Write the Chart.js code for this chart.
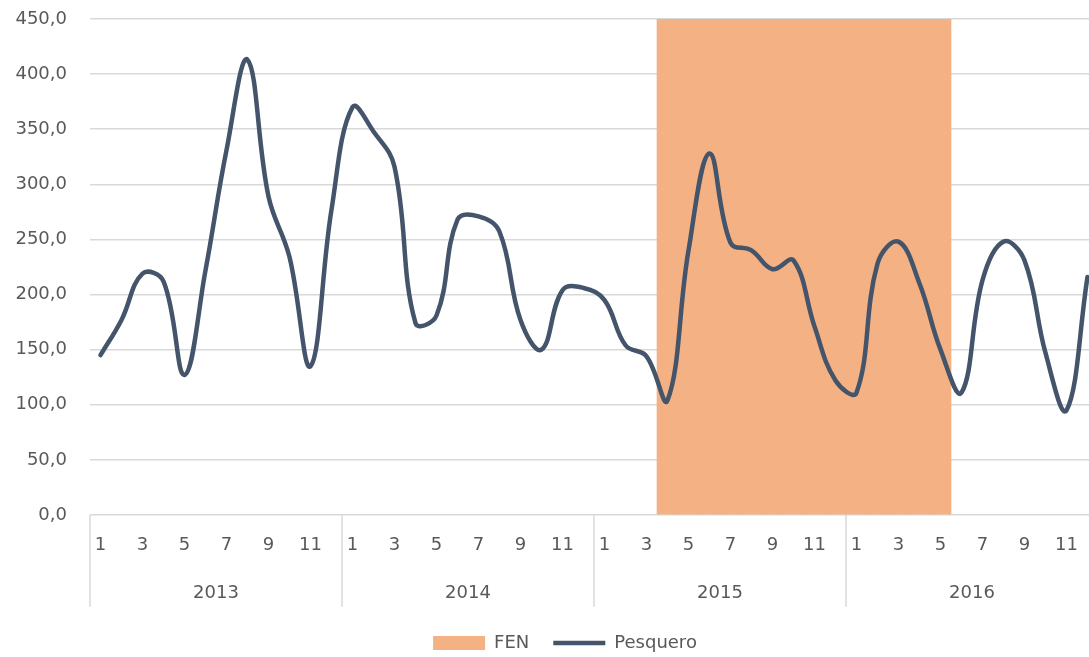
<!DOCTYPE html>
<html>
<head>
<meta charset="utf-8">
<script src="https://cdn.jsdelivr.net/npm/chart.js@4/dist/chart.umd.min.js"></script>
<style>
  html, body { margin: 0; padding: 0; background: #fff; overflow: hidden; }
  #wrap { width: 1089px; height: 657px; overflow: hidden; }
</style>
</head>
<body>
<div id="wrap"><canvas id="chart" width="1104" height="680"></canvas></div>
<script>
var years = ['2013', '2014', '2015', '2016'];
var months = ['1', '2', '3', '4', '5', '6', '7', '8', '9', '10', '11', '12'];

// Pesquero, monthly values 2013-2016
var pesquero = [
    145, 177, 219, 212, 127, 222, 331, 413, 289, 234, 135, 277,
    370, 348, 316, 174, 181, 268, 271, 257, 177, 150, 204, 206,
    195, 154, 144, 104, 240, 328, 247, 240, 223, 231, 171, 122,
    111, 228, 248, 210, 150, 111, 213, 248, 231, 147, 95, 216
];

// FEN period (band up to the top of the axis)
var fen = [
    null, null, null, null, null, null, null, null, null, null, null, null,
    null, null, null, null, null, null, null, null, null, null, null, null,
    null, null, null, 450, 450, 450, 450, 450, 450, 450, 450, 450,
    450, 450, 450, 450, 450, null, null, null, null, null, null, null
];

var labels = [];
years.forEach(function (y) {
    months.forEach(function (m) { labels.push(m); });
});

var textColor = '#595959';
var gridColor = '#d9d9d9';
var font = { family: 'DejaVu Sans', size: 18 };

// vertical separators between the years, below the plot
var yearSeparators = {
    id: 'yearSeparators',
    afterLayout: function (chart) {
        // legend sits a bit right of the canvas centre
        chart.legend.left += 16;
        chart.legend.right += 16;
    },
    afterDraw: function (chart) {
        var xs = chart.scales.x;
        var ctx = chart.ctx;
        var half = (xs.getPixelForValue(1) - xs.getPixelForValue(0)) / 2;
        ctx.save();
        ctx.strokeStyle = gridColor;
        ctx.lineWidth = 1.5;
        for (var i = 0; i <= years.length; i++) {
            var x = Math.round(xs.getPixelForValue(i * 12) - half);
            ctx.beginPath();
            ctx.moveTo(x, chart.chartArea.bottom);
            ctx.lineTo(x, chart.chartArea.bottom + 92);
            ctx.stroke();
        }
        ctx.restore();
    }
};

var ctx = document.getElementById('chart').getContext('2d');

new Chart(ctx, {
    type: 'bar',
    data: {
        labels: labels,
        datasets: [{
            type: 'bar',
            label: 'FEN',
            data: fen,
            backgroundColor: '#F4B183',
            borderWidth: 0,
            barPercentage: 1,
            categoryPercentage: 1,
            pointStyle: 'rect',
            order: 2
        }, {
            type: 'line',
            label: 'Pesquero',
            data: pesquero,
            borderColor: '#44546A',
            backgroundColor: '#44546A',
            borderWidth: 4.5,
            borderCapStyle: 'round',
            tension: 0.4,
            pointRadius: 0,
            pointStyle: 'line',
            fill: false,
            order: 1
        }]
    },
    options: {
        responsive: false,
        animation: false,
        layout: { padding: { top: 19, right: 6, left: 0, bottom: 18 } },
        plugins: {
            tooltip: { enabled: false },
            legend: {
                position: 'bottom',
                labels: {
                    color: textColor,
                    font: font,
                    usePointStyle: true,
                    pointStyleWidth: 52,
                    boxHeight: 14,
                    padding: 24,
                    sort: function (a, b) { return a.datasetIndex - b.datasetIndex; }
                }
            }
        },
        scales: {
            x: {
                grid: { display: false },
                border: { display: false },
                ticks: {
                    color: textColor,
                    font: font,
                    autoSkip: false,
                    maxRotation: 0,
                    padding: 12,
                    callback: function (v, i) { return i % 2 === 0 ? labels[i] : ''; }
                },
                afterFit: function (s) { s.height = 55; }
            },
            x2: {
                type: 'category',
                labels: years,
                position: 'bottom',
                grid: { display: false },
                border: { display: false },
                ticks: { color: textColor, font: font, maxRotation: 0, padding: 5 },
                afterFit: function (s) { s.height = 40; }
            },
            y: {
                min: 0,
                max: 450,
                ticks: {
                    stepSize: 50,
                    color: textColor,
                    font: font,
                    padding: 0,
                    callback: function (v) { return v.toFixed(1).replace('.', ','); }
                },
                grid: {
                    color: gridColor,
                    lineWidth: 1.5,
                    drawTicks: true,
                    tickLength: 23,
                    tickColor: 'rgba(0,0,0,0)'
                },
                border: { display: false },
                afterFit: function (s) { s.width = 90; }
            }
        }
    },
    plugins: [yearSeparators]
});
</script>
</body>
</html>
